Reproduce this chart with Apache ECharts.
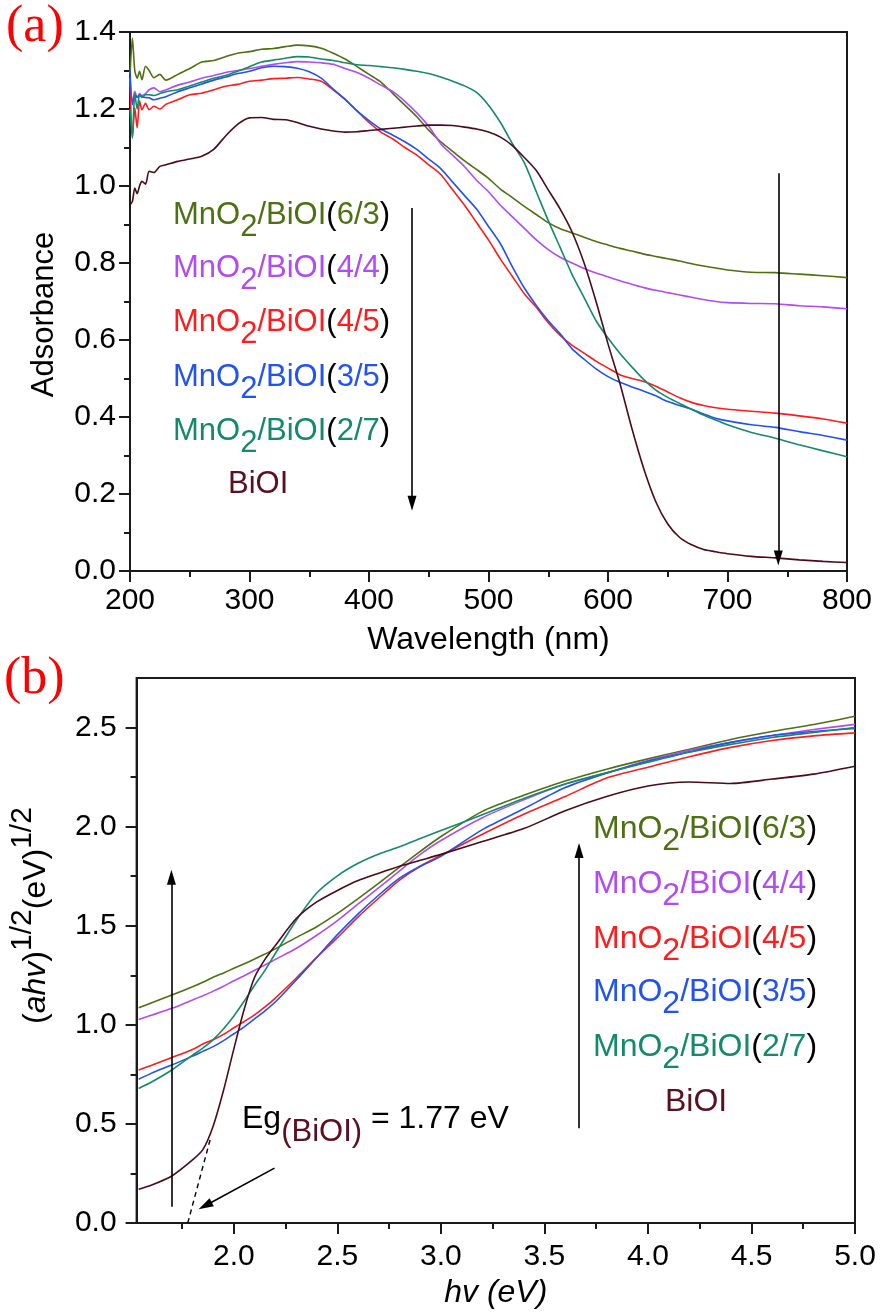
<!DOCTYPE html>
<html>
<head>
<meta charset="utf-8">
<title>MnO2/BiOI UV-vis</title>
<script src="https://cdn.jsdelivr.net/npm/echarts@6/dist/echarts.min.js"></script>
<style>
  html, body { margin: 0; padding: 0; background: #fff; }
  #chart { width: 880px; height: 1316px; }
</style>
</head>
<body>
<div id="chart"></div>
<script>
// ---- panel (a): absorbance spectra ----
const wavelength = [200, 202, 204, 206, 208, 210, 213, 216, 220, 225, 230,
  240, 250, 260, 270, 280, 290, 300, 310, 320, 330,
  340, 350, 360, 370, 380, 390, 400, 410, 420, 430,
  440, 450, 460, 470, 480, 490, 500, 510, 520, 530,
  540, 550, 560, 570, 580, 590, 600, 610, 620, 630,
  640, 650, 660, 670, 680, 690, 700, 720, 740, 760, 780, 800]

const absMn63 = [1.29, 1.384, 1.30, 1.28, 1.298, 1.276, 1.311, 1.30, 1.281, 1.29, 1.275,
  1.29, 1.305, 1.322, 1.326, 1.336, 1.345, 1.349, 1.355, 1.357, 1.362,
  1.366, 1.364, 1.358, 1.345, 1.33, 1.31, 1.29, 1.27, 1.24, 1.21,
  1.18, 1.145, 1.115, 1.09, 1.065, 1.043, 1.02, 0.992, 0.97, 0.947,
  0.926, 0.905, 0.889, 0.878, 0.867, 0.856, 0.847, 0.838, 0.831, 0.823,
  0.817, 0.811, 0.805, 0.798, 0.792, 0.787, 0.782, 0.776, 0.775, 0.771, 0.767, 0.762]
const absMn44 = [1.28, 1.22, 1.246, 1.23, 1.24, 1.235, 1.24, 1.25, 1.255, 1.245, 1.25,
  1.262, 1.27, 1.28, 1.287, 1.295, 1.30, 1.305, 1.311, 1.316, 1.32,
  1.323, 1.322, 1.32, 1.316, 1.305, 1.295, 1.28, 1.262, 1.245, 1.22,
  1.19, 1.155, 1.11, 1.08, 1.05, 1.015, 0.985, 0.95, 0.92, 0.89,
  0.86, 0.835, 0.815, 0.80, 0.786, 0.774, 0.764, 0.754, 0.745, 0.736,
  0.729, 0.723, 0.717, 0.711, 0.705, 0.70, 0.697, 0.695, 0.694, 0.689, 0.686, 0.681]
const absMn45 = [1.28, 1.125, 1.203, 1.151, 1.221, 1.198, 1.215, 1.198, 1.207, 1.20, 1.212,
  1.224, 1.237, 1.241, 1.25, 1.259, 1.264, 1.272, 1.275, 1.279, 1.28,
  1.282, 1.278, 1.272, 1.25, 1.225, 1.195, 1.165, 1.14, 1.122, 1.10,
  1.08, 1.055, 1.03, 0.99, 0.95, 0.905, 0.86, 0.81, 0.765, 0.72,
  0.685, 0.645, 0.612, 0.586, 0.566, 0.545, 0.527, 0.51, 0.50, 0.492,
  0.48, 0.465, 0.45, 0.438, 0.43, 0.424, 0.42, 0.415, 0.41, 0.403, 0.395, 0.384]
const absMn35 = [1.30, 1.211, 1.237, 1.23, 1.235, 1.232, 1.23, 1.229, 1.224, 1.228, 1.232,
  1.245, 1.255, 1.265, 1.275, 1.283, 1.292, 1.298, 1.307, 1.311, 1.31,
  1.306, 1.297, 1.28, 1.252, 1.225, 1.195, 1.17, 1.148, 1.132, 1.115,
  1.095, 1.07, 1.045, 1.01, 0.975, 0.94, 0.895, 0.85, 0.79, 0.735,
  0.69, 0.65, 0.616, 0.577, 0.55, 0.525, 0.505, 0.49, 0.478, 0.467,
  0.455, 0.44, 0.43, 0.42, 0.408, 0.397, 0.39, 0.38, 0.373, 0.362, 0.352, 0.34]
const absMn27 = [1.20, 1.125, 1.24, 1.20, 1.237, 1.23, 1.237, 1.237, 1.235, 1.24, 1.245,
  1.25, 1.26, 1.27, 1.28, 1.287, 1.298, 1.31, 1.322, 1.327, 1.332,
  1.336, 1.335, 1.33, 1.326, 1.32, 1.315, 1.313, 1.31, 1.307, 1.303,
  1.298, 1.292, 1.283, 1.272, 1.26, 1.243, 1.21, 1.165, 1.11, 1.06,
  0.985, 0.91, 0.84, 0.77, 0.71, 0.65, 0.605, 0.565, 0.53, 0.497,
  0.47, 0.451, 0.435, 0.42, 0.405, 0.392, 0.38, 0.36, 0.345, 0.328, 0.312, 0.297]
const absBiOI = [0.951, 0.96, 0.995, 0.98, 1.0, 1.012, 1.005, 1.038, 1.035, 1.051, 1.055,
  1.064, 1.07, 1.077, 1.095, 1.13, 1.16, 1.177, 1.178, 1.173, 1.172,
  1.165, 1.155, 1.148, 1.143, 1.14, 1.141, 1.144, 1.147, 1.15, 1.153,
  1.156, 1.158, 1.158, 1.157, 1.153, 1.148, 1.14, 1.127, 1.105, 1.074,
  1.04, 0.99, 0.94, 0.88, 0.80, 0.70, 0.59, 0.487, 0.37, 0.265,
  0.18, 0.122, 0.087, 0.068, 0.056, 0.05, 0.045, 0.038, 0.034, 0.029, 0.025, 0.022]

// arrows of panel (a): [x0, y0, x1, y1]
const arrowsA = [[436, 0.943, 436, 0.176], [742.5, 1.033, 742.5, 0.034]]

// ---- panel (b): Tauc plot ----
const photonEnergy = [1.54, 1.6, 1.7, 1.8, 1.85, 1.9, 1.95, 2.0, 2.05, 2.1,
  2.15, 2.2, 2.3, 2.4, 2.5, 2.6, 2.7, 2.8, 2.9, 3.0,
  3.2, 3.4, 3.6, 3.8, 4.0, 4.2, 4.4, 4.6, 4.8, 5.0]

const taucMn63 = [1.086, 1.11, 1.15, 1.192, 1.215, 1.24, 1.262, 1.285, 1.308, 1.332,
  1.357, 1.383, 1.44, 1.495, 1.562, 1.637, 1.715, 1.796, 1.875, 1.95,
  2.077, 2.158, 2.23, 2.29, 2.342, 2.39, 2.44, 2.48, 2.515, 2.557]
const taucMn44 = [1.027, 1.048, 1.083, 1.125, 1.147, 1.17, 1.195, 1.222, 1.248, 1.275,
  1.302, 1.33, 1.385, 1.452, 1.526, 1.61, 1.692, 1.777, 1.86, 1.93,
  2.045, 2.135, 2.215, 2.272, 2.333, 2.385, 2.425, 2.46, 2.49, 2.516]
const taucMn45 = [0.772, 0.795, 0.835, 0.876, 0.903, 0.925, 0.952, 0.985, 1.017, 1.05,
  1.09, 1.135, 1.235, 1.34, 1.44, 1.545, 1.64, 1.73, 1.80, 1.855,
  1.962, 2.063, 2.152, 2.245, 2.30, 2.353, 2.40, 2.435, 2.458, 2.473]
const taucMn35 = [0.725, 0.755, 0.797, 0.842, 0.866, 0.89, 0.92, 0.955, 0.99, 1.03,
  1.07, 1.115, 1.225, 1.34, 1.455, 1.56, 1.655, 1.74, 1.80, 1.85,
  1.985, 2.09, 2.197, 2.27, 2.33, 2.378, 2.425, 2.46, 2.48, 2.496]
const taucMn27 = [0.679, 0.71, 0.772, 0.847, 0.882, 0.925, 0.98, 1.045, 1.12, 1.20,
  1.275, 1.36, 1.525, 1.665, 1.752, 1.815, 1.862, 1.898, 1.94, 1.98,
  2.06, 2.142, 2.215, 2.272, 2.325, 2.375, 2.415, 2.45, 2.475, 2.5]
const taucBiOI = [0.17, 0.19, 0.237, 0.318, 0.37, 0.49, 0.67, 0.88, 1.08, 1.24,
  1.33, 1.40, 1.535, 1.62, 1.678, 1.728, 1.765, 1.80, 1.83, 1.86,
  1.925, 1.99, 2.08, 2.152, 2.205, 2.225, 2.218, 2.24, 2.265, 2.305]

const hvTicks = [2.0, 2.5, 3.0, 3.5, 4.0, 4.5, 5.0]
const hvMinorTicks = [1.75, 2.25, 2.75, 3.25, 3.75, 4.25, 4.75]
const taucTicks = [0, 0.5, 1.0, 1.5, 2.0, 2.5]
const taucMinorTicks = [0.25, 0.75, 1.25, 1.75, 2.25]

// arrows of panel (b) and the band-gap extrapolation
const arrowsB = [[1.698, 0.082, 1.698, 1.745], [3.667, 0.478, 3.667, 1.88], [2.196, 0.277, 1.861, 0.087]]
const egLine = [1.777, 0, 1.885, 0.42]

const samples = ['6/3', '4/4', '4/5', '3/5', '2/7']
const colors = ['#4d7012', '#b24cf2', '#ff1c1c', '#2152f5', '#138a6a', '#4a0a18']

const FONT = '"Liberation Sans", Arial, Helvetica, sans-serif'
const SERIF = '"Liberation Serif", "Times New Roman", serif'
const AXIS_COLOR = '#1a1a1a'

function pairs(xs, ys) {
    return xs.map((x, i) => [x, ys[i]])
}

function curve(name, xs, ys, color, idx) {
    return {
        name: name,
        type: 'line',
        xAxisIndex: idx,
        yAxisIndex: idx,
        data: pairs(xs, ys),
        showSymbol: false,
        symbol: 'none',
        smooth: 0.25,
        silent: true,
        lineStyle: {color: color, width: 1.6},
        itemStyle: {color: color}
    }
}

function arrowLines(list) {
    return list.map(a => [{coord: [a[0], a[1]]}, {coord: [a[2], a[3]]}])
}

function axisLabelStyle(margin) {
    return {fontSize: 30, fontFamily: FONT, color: '#000', margin: margin}
}

// legend style text: MnO2/BiOI(x/y) with a lowered 2
function sampleText(label, color, x, y, size) {
    const f = {fontSize: size, fontFamily: FONT, lineHeight: size + 10}
    return {
        type: 'text', x: x, y: y, silent: true,
        style: {
            text: '{m|MnO}{s|2}{m|/BiOI}{k|(}{m|' + label + '}{k|)}',
            fill: color, align: 'left', verticalAlign: 'middle',
            fontSize: size, fontFamily: FONT,
            rich: {
                m: Object.assign({fill: color}, f),
                s: Object.assign({fill: color, padding: [24, 0, 0, 0]}, f),
                k: Object.assign({fill: '#000'}, f)
            }
        }
    }
}

function plainText(text, color, x, y, size, family) {
    return {
        type: 'text', x: x, y: y, silent: true,
        style: {text: text, fill: color, fontSize: size, fontFamily: family || FONT, align: 'left', verticalAlign: 'middle'}
    }
}

const graphics = [
    plainText('(a)', '#ff0000', 6, 27, 52, SERIF),
    plainText('(b)', '#ff0000', 4, 679, 52, SERIF)
]
const rowsA = [215, 268, 322, 377, 431]
const rowsB = [829, 884, 939, 992, 1047]
samples.forEach((s, i) => {
    graphics.push(sampleText(s, colors[i], 173, rowsA[i], 31))
    graphics.push(sampleText(s, colors[i], 593, rowsB[i], 32))
})
graphics.push(plainText('BiOI', '#5a1020', 228, 484, 31))
graphics.push(plainText('BiOI', '#5a1020', 665, 1102, 32))
graphics.push({
    type: 'text', x: 242, y: 1119, silent: true,
    style: {
        text: '{n|Eg}{s|(BiOI)}{n| = 1.77 eV}',
        align: 'left', verticalAlign: 'middle', fontSize: 32, fontFamily: FONT,
        rich: {
            n: {fontSize: 32, fontFamily: FONT, fill: '#000', lineHeight: 42},
            s: {fontSize: 31, fontFamily: FONT, fill: '#5a1020', lineHeight: 42, padding: [26, 0, 0, 0]}
        }
    }
})

const seriesA = [absMn63, absMn44, absMn45, absMn35, absMn27].map((ys, i) =>
    curve('MnO2/BiOI(' + samples[i] + ')', wavelength, ys, colors[i], 0))
const biA = curve('BiOI', wavelength, absBiOI, colors[5], 0)
biA.markLine = {
    silent: true, animation: false,
    symbol: ['none', 'triangle'], symbolSize: [9, 15],
    label: {show: false},
    lineStyle: {color: '#000', width: 1.6, type: 'solid'},
    emphasis: {disabled: true},
    data: arrowLines(arrowsA)
}

const seriesB = [taucMn63, taucMn44, taucMn45, taucMn35, taucMn27].map((ys, i) =>
    curve('MnO2/BiOI(' + samples[i] + ')', photonEnergy, ys, colors[i], 1))
const biB = curve('BiOI', photonEnergy, taucBiOI, colors[5], 1)
const egDash = [
    {coord: [egLine[0], egLine[1]], symbol: 'none', lineStyle: {type: [5, 4], width: 1.4}},
    {coord: [egLine[2], egLine[3]], symbol: 'none'}
]
biB.markLine = {
    silent: true, animation: false,
    symbol: ['none', 'triangle'], symbolSize: [9, 15],
    label: {show: false},
    lineStyle: {color: '#000', width: 1.6, type: 'solid'},
    emphasis: {disabled: true},
    data: arrowLines(arrowsB).concat([egDash])
}

const tickLine = {lineStyle: {color: AXIS_COLOR, width: 2}}

const option = {
    animation: false,
    backgroundColor: '#fff',
    grid: [
        {left: 130, top: 32, width: 717, height: 539, show: true, borderColor: AXIS_COLOR, borderWidth: 2, containLabel: false},
        {left: 130, top: 678, width: 725, height: 545, show: true, borderColor: AXIS_COLOR, borderWidth: 2, containLabel: false}
    ],
    xAxis: [
        {
            gridIndex: 0, type: 'value', min: 200, max: 800, interval: 100,
            axisLine: {lineStyle: {color: AXIS_COLOR, width: 2}},
            axisTick: Object.assign({length: 11}, tickLine),
            minorTick: Object.assign({show: true, splitNumber: 2, length: 6}, tickLine),
            axisLabel: axisLabelStyle(15),
            splitLine: {show: false},
            name: 'Wavelength (nm)', nameLocation: 'middle', nameGap: 53,
            nameTextStyle: {fontSize: 32, fontFamily: FONT, color: '#000'}
        },
        {
            gridIndex: 1, type: 'value', min: 1.53, max: 5,
            axisLine: {lineStyle: {color: AXIS_COLOR, width: 2}},
            axisTick: Object.assign({length: 11, customValues: hvTicks}, tickLine),
            axisLabel: Object.assign({customValues: hvTicks, formatter: v => v.toFixed(1)}, axisLabelStyle(19)),
            splitLine: {show: false},
            name: 'hv (eV)', nameLocation: 'middle', nameGap: 54,
            nameTextStyle: {fontSize: 32, fontFamily: FONT, fontStyle: 'italic', color: '#000'}
        },
        {
            gridIndex: 1, type: 'value', min: 1.53, max: 5, position: 'bottom',
            axisLine: {show: false},
            axisTick: Object.assign({length: 6, customValues: hvMinorTicks}, tickLine),
            axisLabel: {show: false},
            splitLine: {show: false}
        }
    ],
    yAxis: [
        {
            gridIndex: 0, type: 'value', min: 0, max: 1.4, interval: 0.2,
            axisLine: {show: true, lineStyle: {color: AXIS_COLOR, width: 2}},
            axisTick: Object.assign({show: true, length: 11}, tickLine),
            minorTick: Object.assign({show: true, splitNumber: 2, length: 6}, tickLine),
            axisLabel: Object.assign({formatter: v => v.toFixed(1)}, axisLabelStyle(14)),
            splitLine: {show: false},
            name: 'Adsorbance', nameLocation: 'middle', nameGap: 70, nameRotate: 90,
            nameTextStyle: {fontSize: 31, fontFamily: FONT, color: '#000', padding: [0, 26, 0, 0]}
        },
        {
            gridIndex: 1, type: 'value', min: 0, max: 2.75,
            axisLine: {show: true, lineStyle: {color: AXIS_COLOR, width: 2}},
            axisTick: Object.assign({show: true, length: 11, customValues: taucTicks}, tickLine),
            axisLabel: Object.assign({customValues: taucTicks, formatter: v => v.toFixed(1)}, axisLabelStyle(20)),
            splitLine: {show: false},
            name: '{n|(}{i|ahv}{n|)}{p|1/2}{n|(eV)}{p|1/2}',
            nameLocation: 'middle', nameGap: 64, nameRotate: 90,
            nameTextStyle: {
                fontSize: 32, fontFamily: FONT, color: '#000', padding: [0, 0, 0, 70],
                rich: {
                    n: {fontSize: 32, fontFamily: FONT, color: '#000', lineHeight: 44},
                    i: {fontSize: 32, fontFamily: FONT, fontStyle: 'italic', color: '#000', lineHeight: 44},
                    p: {fontSize: 30, fontFamily: FONT, color: '#000', lineHeight: 44, padding: [0, 0, 26, 0]}
                }
            }
        },
        {
            gridIndex: 1, type: 'value', min: 0, max: 2.75, position: 'left',
            axisLine: {show: false},
            axisTick: Object.assign({show: true, length: 6, customValues: taucMinorTicks}, tickLine),
            axisLabel: {show: false},
            splitLine: {show: false}
        }
    ],
    graphic: graphics,
    series: seriesA.concat([biA]).concat(seriesB).concat([biB])
}

const chartInstance = echarts.init(document.getElementById('chart'), null, {renderer: 'canvas'})
chartInstance.setOption(option)
</script>
</body>
</html>
